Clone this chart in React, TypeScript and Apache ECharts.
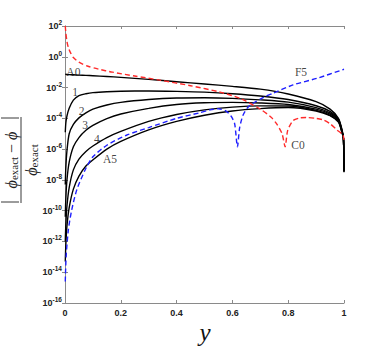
import React, { useEffect, useRef } from 'react';
import * as echarts from 'echarts';

// x grid shared by the black (A0..A5) curves
const xBlack = [0.001, 0.003, 0.007, 0.015, 0.03, 0.05, 0.075, 0.1, 0.15, 0.2, 0.3, 0.4, 0.5, 0.6, 0.7, 0.8, 0.9, 0.95, 0.98, 0.993, 0.998, 1.0];
// log10 of relative error
const expA0 = [-1.14, -1.14, -1.15, -1.16, -1.17, -1.19, -1.21, -1.23, -1.28, -1.34, -1.47, -1.62, -1.77, -1.92, -2.1, -2.42, -2.92, -3.4, -4.0, -4.75, -5.3, -7.5];
const expA1 = [-4.9, -4.3, -3.85, -3.35, -2.82, -2.52, -2.4, -2.33, -2.27, -2.24, -2.22, -2.25, -2.3, -2.4, -2.55, -2.78, -3.18, -3.55, -4.05, -4.8, -5.3, -7.45];
const expA2 = [-8.3, -7.2, -6.1, -5.0, -4.4, -3.97, -3.64, -3.4, -3.13, -2.96, -2.78, -2.68, -2.66, -2.7, -2.8, -2.95, -3.3, -3.65, -4.1, -4.85, -5.3, -7.45];
const expA3 = [-10.4, -9.2, -8.0, -6.85, -5.85, -5.25, -4.78, -4.46, -4.02, -3.72, -3.35, -3.1, -2.99, -2.96, -3.0, -3.1, -3.4, -3.72, -4.15, -4.88, -5.3, -7.4];
const expA4 = [-12.0, -10.9, -9.7, -8.5, -7.35, -6.65, -6.15, -5.8, -5.25, -4.85, -4.2, -3.75, -3.45, -3.27, -3.19, -3.2, -3.48, -3.8, -4.22, -4.9, -5.3, -7.4];
const expA5 = [-13.3, -12.2, -11.0, -9.8, -8.6, -7.75, -7.1, -6.7, -6.0, -5.5, -4.75, -4.2, -3.8, -3.52, -3.37, -3.3, -3.52, -3.83, -4.25, -4.95, -5.3, -7.4];

const xF5 = [0.001, 0.004, 0.012, 0.024, 0.042, 0.072, 0.1, 0.15, 0.22, 0.3, 0.4, 0.48, 0.52, 0.55, 0.575, 0.595, 0.608, 0.618, 0.626, 0.638, 0.655, 0.674, 0.71, 0.746, 0.817, 0.903, 1.0];
const expF5 = [-14.6, -13.0, -11.25, -9.96, -8.66, -7.36, -6.5, -5.75, -5.1, -4.6, -4.0, -3.65, -3.45, -3.38, -3.5, -3.85, -4.35, -5.85, -4.6, -3.8, -3.3, -3.02, -2.65, -2.37, -1.83, -1.4, -0.81];

const xC0 = [0.001, 0.003, 0.007, 0.012, 0.02, 0.03, 0.05, 0.08, 0.12, 0.17, 0.25, 0.34, 0.45, 0.556, 0.627, 0.7, 0.74, 0.76, 0.778, 0.789, 0.798, 0.817, 0.84, 0.867, 0.9, 0.925, 0.95, 0.975, 0.996, 1.0];
const expC0 = [2.0, 1.55, 1.0, 0.6, 0.25, -0.05, -0.35, -0.6, -0.8, -1.0, -1.25, -1.52, -1.88, -2.3, -2.7, -3.4, -3.95, -4.4, -5.0, -5.85, -4.8, -4.15, -3.98, -3.95, -4.0, -4.1, -4.35, -4.76, -5.08, -5.4];

// curve annotations (x, log10 y)
const labelNames = ['A0', '1', '2', '3', '4', 'A5', 'F5', 'C0'];
const labelX = [0.03, 0.036, 0.06, 0.072, 0.114, 0.161, 0.846, 0.835];
const labelExp = [-0.99, -2.29, -3.52, -4.43, -5.34, -6.64, -0.99, -5.73];

const xTicks = [0, 0.2, 0.4, 0.6, 0.8, 1];

const toPairs = (xs: number[], es: number[]) => xs.map((x, i) => [x, Math.pow(10, es[i])]);

export default function App() {
  const ref = useRef<HTMLDivElement>(null);
  useEffect(() => {
    document.body.style.margin = '0';
    if (!ref.current) return;
    const chart = echarts.init(ref.current, null, { renderer: 'svg' });
    const axisColor = '#8a8a8a';
    const serif = 'Liberation Serif';
    const blackSeries = [expA0, expA1, expA2, expA3, expA4, expA5].map((es) => ({
      type: 'line',
      data: toPairs(xBlack, es),
      showSymbol: false,
      smooth: 0.25,
      lineStyle: { color: '#000', width: 1.4 },
      z: 3,
    }));
    const yLabelRich = {
      b: { fontSize: 9, fontWeight: 'bold', color: '#222', fontFamily: 'Liberation Sans' },
      s: { fontSize: 6.5, fontWeight: 'bold', color: '#222', fontFamily: 'Liberation Sans', padding: [0, 0, 7, 0] },
    };
    const option: any = {
      animation: false,
      grid: { left: 65, right: 37, top: 26, bottom: 48 },
      xAxis: [
        {
          type: 'value', min: 0, max: 1, interval: 0.2, position: 'bottom',
          axisLine: { lineStyle: { color: axisColor, width: 1 } },
          axisTick: { inside: true, length: 3, lineStyle: { color: axisColor } },
          splitLine: { show: false },
          axisLabel: {
            margin: 5, fontSize: 9, fontWeight: 'bold', color: '#222', fontFamily: 'Liberation Sans',
            formatter: (v: number) => {
              const t = xTicks.find((k) => Math.abs(k - v) < 1e-9);
              return t === undefined ? '' : String(t);
            },
          },
        },
        {
          type: 'value', min: 0, max: 1, interval: 0.2, position: 'top',
          axisLine: { lineStyle: { color: axisColor, width: 1 } },
          axisTick: { inside: true, length: 3, lineStyle: { color: axisColor } },
          splitLine: { show: false },
          axisLabel: { show: false },
        },
      ],
      yAxis: [
        {
          type: 'log', min: 1e-16, max: 1e2, interval: 2, position: 'left',
          axisLine: { lineStyle: { color: axisColor, width: 1 } },
          axisTick: { inside: true, length: 3, lineStyle: { color: axisColor } },
          minorTick: { show: false },
          splitLine: { show: false },
          axisLabel: {
            margin: 3,
            formatter: (v: number) => `{b|10}{s|${Math.round(Math.log10(v))}}`,
            rich: yLabelRich,
          },
        },
        {
          type: 'log', min: 1e-16, max: 1e2, interval: 2, position: 'right',
          axisLine: { lineStyle: { color: axisColor, width: 1 } },
          axisTick: { inside: true, length: 3, lineStyle: { color: axisColor } },
          splitLine: { show: false },
          axisLabel: { show: false },
        },
      ],
      series: [
        ...blackSeries,
        {
          type: 'line', data: toPairs(xC0, expC0), showSymbol: false, smooth: 0.25,
          lineStyle: { color: '#ff2a2a', width: 1.4, type: [5, 3] }, z: 4,
        },
        {
          type: 'line', data: toPairs(xF5, expF5), showSymbol: false, smooth: 0.25,
          lineStyle: { color: '#1f1fff', width: 1.4, type: [5, 3] }, z: 4,
        },
        {
          type: 'scatter', symbolSize: 0, z: 5, silent: true,
          data: labelNames.map((n, i) => ({ name: n, value: [labelX[i], Math.pow(10, labelExp[i])] })),
          label: {
            show: true, position: 'inside', formatter: (p: any) => p.name,
            fontFamily: serif, fontSize: 11.5, color: '#111', textBorderWidth: 0,
          },
        },
      ],
      graphic: [
        {
          type: 'text', x: 205, y: 332,
          style: {
            text: 'y', fontFamily: serif, fontStyle: 'italic', fontSize: 25, fill: '#111',
            textAlign: 'center', textVerticalAlign: 'middle',
          },
        },
        {
          type: 'group', x: 21, y: 160, rotation: Math.PI / 2,
          children: [
            { type: 'line', shape: { x1: -43, y1: 0, x2: 43, y2: 0 }, style: { stroke: '#222', lineWidth: 0.9 } },
            { type: 'line', shape: { x1: -42, y1: -20, x2: -42, y2: -2 }, style: { stroke: '#222', lineWidth: 0.9 } },
            { type: 'line', shape: { x1: 42, y1: -20, x2: 42, y2: -2 }, style: { stroke: '#222', lineWidth: 0.9 } },
            {
              type: 'text', x: 0, y: -10,
              style: {
                text: '{i|ϕ}{sub|exact}{n| − }{i|ϕ}',
                textAlign: 'center', textVerticalAlign: 'middle',
                rich: {
                  i: { fontFamily: serif, fontStyle: 'italic', fontSize: 16, fill: '#222' },
                  sub: { fontFamily: serif, fontSize: 11, fill: '#222', padding: [6, 0, 0, 0] },
                  n: { fontFamily: serif, fontSize: 16, fill: '#222' },
                },
              },
            },
            {
              type: 'text', x: 0, y: 10,
              style: {
                text: '{i|ϕ}{sub|exact}',
                textAlign: 'center', textVerticalAlign: 'middle',
                rich: {
                  i: { fontFamily: serif, fontStyle: 'italic', fontSize: 16, fill: '#222' },
                  sub: { fontFamily: serif, fontSize: 11, fill: '#222', padding: [6, 0, 0, 0] },
                },
              },
            },
          ],
        },
      ],
    };
    chart.setOption(option);
    return () => chart.dispose();
  }, []);
  return <div ref={ref} style={{ width: 381, height: 351 }} />;
}
